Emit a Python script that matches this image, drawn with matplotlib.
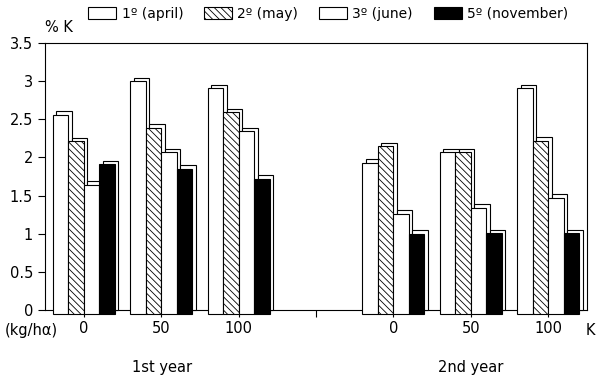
import matplotlib.pyplot as plt
import numpy as np

plt.rcParams["hatch.linewidth"] = 0.6

# dose labels, two years side by side with a gap between them
doses = ["0", "50", "100", "", "0", "50", "100"]
years = ["1st year", "2nd year"]
series = ["1º (april)", "2º (may)", "3º (june)", "5º (november)"]

# % K per sampling, year 1 doses then year 2 doses
april = [2.56, 3.00, 2.91, 1.93, 2.07, 2.91]
may = [2.21, 2.39, 2.59, 2.15, 2.07, 2.22]
june = [1.64, 2.07, 2.34, 1.26, 1.34, 1.47]
november = [1.91, 1.85, 1.72, 1.00, 1.01, 1.01]

values = [april, may, june, november]
faces = ["white", "white", "white", "black"]
hatches = [None, "\\\\\\\\\\", None, None]

x = np.array([0, 1, 2, 4, 5, 6])
width = 0.2
dx, dy = 0.045, 0.045  # offset of the back face

fig = plt.figure(figsize=(5.99, 3.80), dpi=100)
ax = fig.add_axes([0.075, 0.184, 0.905, 0.703])

handles = []
for i, (vals, fc, h) in enumerate(zip(values, faces, hatches)):
    pos = x + (i - 1.5) * width
    vals = np.array(vals)
    # back face of the pseudo 3d bar
    ax.bar(pos + dx, vals + dy, width, bottom=-0.0, color="white",
           edgecolor="black", linewidth=0.8, align="center",
           zorder=3 + 2 * i, clip_on=False)
    front = ax.bar(pos, vals + 0.05, width, bottom=-0.05, color=fc,
                   edgecolor="black", hatch=h, linewidth=0.8,
                   align="center", zorder=4 + 2 * i, clip_on=False)
    handles.append(front)

ax.set_xlim(-0.5, 6.5)
ax.set_ylim(0, 3.5)
ax.set_yticks(np.arange(0, 3.51, 0.5))
ax.set_yticklabels(["0", "0.5", "1", "1.5", "2", "2.5", "3", "3.5"])
ax.set_xticks([0, 1, 2, 3, 4, 5, 6])
ax.set_xticklabels(doses)
ax.tick_params(axis="both", direction="out", length=5, width=0.8,
               labelsize=10.5, colors="black")
ax.tick_params(axis="x", pad=3)
for s in ax.spines.values():
    s.set_linewidth(0.8)

ax.text(0.0, 1.03, "% K", transform=ax.transAxes, fontsize=10.5,
        ha="left", va="bottom")
fig.text(0.008, 0.13, "(kg/hα)", fontsize=10.5, ha="left", va="center")
fig.text(0.985, 0.13, "K", fontsize=10.5, ha="center", va="center")
fig.text(0.27, 0.032, years[0], fontsize=10.5, ha="center", va="center")
fig.text(0.785, 0.032, years[1], fontsize=10.5, ha="center", va="center")

fig.legend(handles, series, loc="center", bbox_to_anchor=(0.548, 0.964),
           ncol=4, frameon=False, fontsize=10, handlelength=2.0,
           handleheight=0.9, columnspacing=1.5, handletextpad=0.4)

fig.savefig("out.png", dpi=100)
plt.close(fig)
